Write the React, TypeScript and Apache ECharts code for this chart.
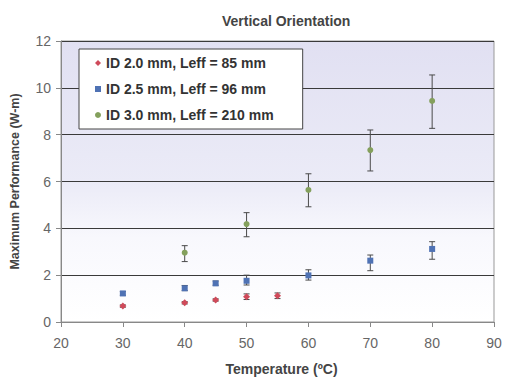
import React, { useEffect, useRef } from "react";
import * as echarts from "echarts";

const seriesNames = ["ID 2.0 mm, Leff = 85 mm", "ID 2.5 mm, Leff = 96 mm", "ID 3.0 mm, Leff = 210 mm"];

const redTemps = [30, 40, 45, 50, 55];
const redValues = [0.68, 0.82, 0.94, 1.08, 1.12];
const redLow = [0.63, 0.77, 0.89, 0.96, 1.0];
const redHigh = [0.73, 0.87, 0.99, 1.2, 1.24];

const blueTemps = [30, 40, 45, 50, 60, 70, 80];
const blueValues = [1.22, 1.44, 1.65, 1.76, 1.99, 2.62, 3.12];
const blueLow = [1.14, 1.34, 1.57, 1.58, 1.79, 2.19, 2.68];
const blueHigh = [1.3, 1.56, 1.75, 2.0, 2.23, 2.86, 3.43];

const greenTemps = [40, 50, 60, 70, 80];
const greenValues = [2.96, 4.18, 5.64, 7.34, 9.44];
const greenLow = [2.58, 3.64, 4.92, 6.45, 8.27];
const greenHigh = [3.26, 4.67, 6.33, 8.2, 10.55];

const xTicks = [20, 30, 40, 50, 60, 70, 80, 90];
const yTicks = [0, 2, 4, 6, 8, 10, 12];

const colors = ["#cf4a5a", "#4f72b4", "#84a05c"];
const symbols = ["diamond", "rect", "circle"];
const symbolSizes = [7, 6, 6];

const FONT = "'Liberation Sans', Arial, sans-serif";

export default function App() {
  const ref = useRef<HTMLDivElement>(null);
  useEffect(() => {
    if (!ref.current) return;
    const chart = echarts.init(ref.current, null, { renderer: "svg" });

    const groups = [
      { t: redTemps, v: redValues, lo: redLow, hi: redHigh },
      { t: blueTemps, v: blueValues, lo: blueLow, hi: blueHigh },
      { t: greenTemps, v: greenValues, lo: greenLow, hi: greenHigh },
    ];

    const errSeries = groups.map((g, i) => ({
      type: "custom",
      name: "err" + i,
      z: 1,
      silent: true,
      data: g.t.map((x, j) => [x, g.lo[j], g.hi[j]]),
      renderItem: (params: any, api: any) => {
        const x = api.value(0);
        const p1 = api.coord([x, api.value(2)]);
        const p2 = api.coord([x, api.value(1)]);
        const w = 3;
        const st = { stroke: "#4a4a4a", lineWidth: 1 };
        return {
          type: "group",
          children: [
            { type: "line", shape: { x1: p1[0], y1: p1[1], x2: p2[0], y2: p2[1] }, style: st },
            { type: "line", shape: { x1: p1[0] - w, y1: p1[1], x2: p1[0] + w, y2: p1[1] }, style: st },
            { type: "line", shape: { x1: p2[0] - w, y1: p2[1], x2: p2[0] + w, y2: p2[1] }, style: st },
          ],
        };
      },
    }));

    const scatterSeries = groups.map((g, i) => ({
      type: "scatter",
      name: seriesNames[i],
      z: 3,
      symbol: symbols[i],
      symbolSize: symbolSizes[i],
      itemStyle: { color: colors[i], opacity: 1 },
      data: g.t.map((x, j) => [x, g.v[j]]),
    }));

    chart.setOption({
      animation: false,
      backgroundColor: "#ffffff",
      title: {
        text: "Vertical Orientation",
        left: 217,
        top: 9,
        textStyle: { fontFamily: FONT, fontSize: 14, fontWeight: "bold", color: "#444" },
      },
      legend: {
        data: seriesNames,
        orient: "vertical",
        left: 79,
        top: 49,
        backgroundColor: "#ffffff",
        borderColor: "#444",
        borderWidth: 1,
        padding: [7, 29, 7, 16],
        itemGap: 12,
        itemWidth: 6,
        itemHeight: 6,
        textStyle: { fontFamily: FONT, fontSize: 14, fontWeight: "bold", color: "#333" },
      },
      grid: {
        left: 61,
        right: 13,
        top: 41,
        bottom: 63,
        show: true,
        borderColor: "#999",
        borderWidth: 1,
        backgroundColor: new echarts.graphic.LinearGradient(0, 0, 0, 1, [
          { offset: 0, color: "#e1e0f2" },
          { offset: 0.5, color: "#ebebf7" },
          { offset: 0.7, color: "#f8f8fd" },
          { offset: 1, color: "#ffffff" },
        ]),
      },
      xAxis: {
        type: "value",
        min: xTicks[0],
        max: xTicks[xTicks.length - 1],
        interval: 10,
        name: "Temperature (ºC)",
        nameLocation: "middle",
        nameGap: 40,
        nameTextStyle: { fontFamily: FONT, fontSize: 14, fontWeight: "bold", color: "#444", padding: [0, 0, 0, 8] },
        axisLine: { show: true, lineStyle: { color: "#888" } },
        axisTick: { show: true, length: 5, lineStyle: { color: "#888" } },
        axisLabel: { fontFamily: FONT, fontSize: 14, color: "#666", margin: 14 },
        splitLine: { show: false },
      },
      yAxis: {
        type: "value",
        min: yTicks[0],
        max: yTicks[yTicks.length - 1],
        interval: 2,
        name: "Maximum Performance (W-m)",
        nameLocation: "middle",
        nameGap: 40,
        nameTextStyle: { fontFamily: FONT, fontSize: 12.5, fontWeight: "bold", color: "#444" },
        axisLine: { show: true, lineStyle: { color: "#888" } },
        axisTick: { show: true, length: 5, lineStyle: { color: "#888" } },
        axisLabel: { fontFamily: FONT, fontSize: 14, color: "#666", margin: 10 },
        splitLine: { show: true, lineStyle: { color: "#3a3a3a", width: 1 } },
      },
      series: [...errSeries, ...scatterSeries],
    });
    return () => chart.dispose();
  }, []);
  return <div ref={ref} style={{ position: "fixed", left: 0, top: 0, width: 507, height: 385 }} />;
}
